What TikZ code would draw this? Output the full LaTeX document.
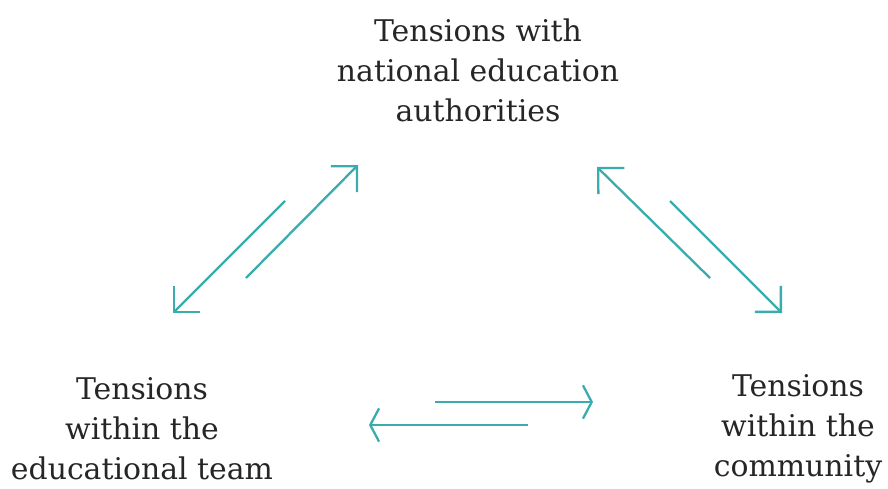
\documentclass[tikz,border=0pt]{standalone}
\usepackage{fontspec}
\setmainfont{DejaVu Serif}
\usetikzlibrary{arrows.meta}

\definecolor{tensionTeal}{RGB}{58,172,174}

\newcommand{\arrowLineWidth}{1.3pt}
\newcommand{\labelFontSize}{\fontsize{17}{22.8}\selectfont}

\begin{document}
\begin{tikzpicture}
        \useasboundingbox (0,0) rectangle (17.76,-9.76);

        \tikzset{
            tensionLabel/.style={align=center, font=\labelFontSize, text=black!85, inner sep=0pt},
            tensionArrow/.style={line width=\arrowLineWidth, tensionTeal, -{Straight Barb[length=10.5pt, width=21pt, line width=\arrowLineWidth]}},
            flatArrow/.style={line width=\arrowLineWidth, tensionTeal, -{Straight Barb[length=5pt, width=19pt, line width=\arrowLineWidth]}}
        }

        % Labels
        \node[tensionLabel] (national) at (9.56,-1.40) {Tensions with\\national education\\authorities};
        \node[tensionLabel] (team) at (2.84,-8.58) {Tensions\\within the\\educational team};
        \node[tensionLabel] (community) at (15.96,-8.58) {Tensions\\within the\\community};

        % Arrow ends
        \coordinate (teamUpStart) at (4.92,-5.56);
        \coordinate (teamUpEnd) at (7.16,-3.30);
        \coordinate (teamDownStart) at (5.70,-4.02);
        \coordinate (teamDownEnd) at (3.46,-6.26);
        \coordinate (commUpStart) at (14.20,-5.56);
        \coordinate (commUpEnd) at (11.94,-3.34);
        \coordinate (commDownStart) at (13.40,-4.02);
        \coordinate (commDownEnd) at (15.64,-6.26);
        \coordinate (rightStart) at (8.70,-8.04);
        \coordinate (rightEnd) at (11.86,-8.04);
        \coordinate (leftStart) at (10.56,-8.50);
        \coordinate (leftEnd) at (7.38,-8.50);

        % Draw left pair
        \draw[tensionArrow] (teamDownStart) -- (teamDownEnd);
        \draw[tensionArrow] (teamUpStart) -- (teamUpEnd);

        % Draw right pair
        \draw[tensionArrow] (commUpStart) -- (commUpEnd);
        \draw[tensionArrow] (commDownStart) -- (commDownEnd);

        % Draw bottom pair
        \draw[flatArrow] (rightStart) -- (rightEnd);
        \draw[flatArrow] (leftStart) -- (leftEnd);
    \end{tikzpicture}
\end{document}
